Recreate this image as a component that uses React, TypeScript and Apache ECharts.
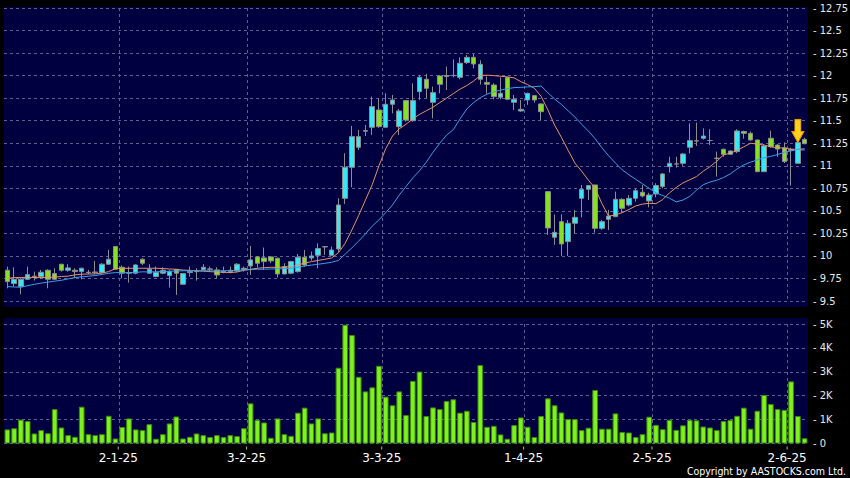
import React, { useEffect, useRef } from 'react';
import * as echarts from 'echarts';

// Trading days (HK), grouped by month
const dec24 = [5, 6, 9, 10, 11, 12, 13, 16, 17, 18, 19, 20, 23, 24, 27, 30, 31];
const jan25 = [2, 3, 6, 7, 8, 9, 10, 13, 14, 15, 16, 17, 20, 21, 22, 23, 24, 27, 28];
const feb25 = [3, 4, 5, 6, 7, 10, 11, 12, 13, 14, 17, 18, 19, 20, 21, 24, 25, 26, 27, 28];
const mar25 = [3, 4, 5, 6, 7, 10, 11, 12, 13, 14, 17, 18, 19, 20, 21, 24, 25, 26, 27, 28, 31];
const apr25 = [1, 2, 3, 7, 8, 9, 10, 11, 14, 15, 16, 17, 22, 23, 24, 25, 28, 29, 30];
const may25 = [2, 6, 7, 8, 9, 12, 13, 14, 15, 16, 19, 20, 21, 22, 23, 26, 27, 28, 29, 30];
const jun25 = [2, 3, 4];

const opens = [
  9.841, 9.693, 9.66, 9.741, 9.771, 9.771, 9.841, 9.804, 9.908, 9.841, 9.841, 9.826, 9.815, 9.815, 9.815, 9.908, 10.104, 9.874, 9.815, 9.808,
  9.963, 9.808, 9.771, 9.808, 9.782, 9.849, 9.686, 9.815, 9.826, 9.849, 9.852, 9.845, 9.826, 9.826, 9.834, 9.849, 9.889, 9.989, 9.978, 9.989,
  9.974, 9.8, 9.808, 9.826, 9.985, 9.978, 10.007, 10.103, 10.007, 10.077, 10.639, 10.983, 11.205, 11.39, 11.427, 11.619, 11.427, 11.682, 11.434, 11.723,
  11.5, 11.822, 11.959, 11.704, 11.996, 11.99, 12.0, 11.981, 12.144, 12.203, 11.959, 11.925, 11.896, 11.76, 11.978, 11.704, 11.608, 11.73, 11.778, 11.686,
  10.713, 10.207, 10.38, 10.159, 10.362, 10.639, 10.739, 10.787, 10.306, 10.406, 10.436, 10.628, 10.565, 10.639, 10.706, 10.61, 10.687, 10.769, 10.99, 11.02,
  11.027, 11.205, 11.277, 11.305, 11.28, 11.085, 11.183, 11.127, 11.157, 11.38, 11.36, 11.286, 10.935, 11.305, 11.23, 11.2, 11.17, 11.027, 11.293,
];
const closes = [
  9.715, 9.741, 9.741, 9.793, 9.775, 9.819, 9.741, 9.741, 9.841, 9.867, 9.826, 9.863, 9.819, 9.822, 9.908, 9.963, 9.852, 9.808, 9.808, 9.9,
  9.919, 9.852, 9.819, 9.841, 9.826, 9.808, 9.804, 9.826, 9.83, 9.874, 9.856, 9.789, 9.819, 9.841, 9.908, 9.863, 9.956, 9.919, 9.937, 9.945,
  9.8, 9.882, 9.937, 9.985, 9.9, 10.0, 10.081, 10.1, 10.066, 10.565, 10.983, 11.323, 11.323, 11.383, 11.656, 11.434, 11.682, 11.73, 11.608, 11.508,
  11.723, 11.981, 11.859, 11.811, 11.904, 12.0, 12.003, 12.137, 12.203, 12.129, 12.126, 11.905, 11.767, 11.804, 11.737, 11.737, 11.626, 11.804, 11.73, 11.6,
  10.31, 10.262, 10.133, 10.362, 10.428, 10.739, 10.78, 10.306, 10.38, 10.443, 10.628, 10.528, 10.639, 10.724, 10.665, 10.676, 10.78, 10.909, 11.027, 11.02,
  11.131, 11.279, 11.275, 11.33, 11.28, 11.08, 11.127, 11.164, 11.386, 11.36, 11.286, 10.935, 11.22, 11.212, 11.185, 11.046, 11.18, 11.257, 11.245,
];
const lows = [
  9.641, 9.66, 9.575, 9.734, 9.727, 9.745, 9.641, 9.734, 9.826, 9.826, 9.752, 9.741, 9.797, 9.8, 9.808, 9.9, 9.845, 9.752, 9.704, 9.797,
  9.9, 9.8, 9.764, 9.797, 9.649, 9.568, 9.678, 9.771, 9.726, 9.837, 9.826, 9.752, 9.808, 9.808, 9.819, 9.826, 9.789, 9.87, 9.845, 9.919,
  9.76, 9.797, 9.797, 9.815, 9.88, 9.948, 9.863, 10.011, 10.0, 10.04, 10.577, 10.761, 11.175, 11.33, 11.342, 11.42, 11.42, 11.582, 11.342, 11.49,
  11.49, 11.73, 11.75, 11.527, 11.804, 11.84, 11.98, 11.959, 12.13, 12.08, 11.9, 11.8, 11.737, 11.737, 11.73, 11.619, 11.6, 11.675, 11.7, 11.508,
  10.233, 10.122, 10.0, 10.0, 10.251, 10.428, 10.621, 10.258, 10.29, 10.288, 10.43, 10.48, 10.55, 10.602, 10.65, 10.539, 10.65, 10.75, 10.924, 10.98,
  11.0, 11.138, 11.22, 11.29, 11.23, 10.88, 11.1, 11.12, 11.14, 11.3, 11.28, 10.93, 10.93, 11.2, 11.1, 11.03, 10.78, 11.027, 11.24,
];
const highs = [
  9.882, 9.874, 9.752, 9.882, 9.826, 9.845, 9.852, 9.863, 9.908, 9.908, 9.863, 9.871, 9.845, 9.945, 9.919, 10.067, 10.104, 9.893, 9.882, 9.908,
  9.974, 9.908, 9.882, 9.874, 9.845, 9.856, 9.808, 9.882, 9.863, 9.908, 9.882, 9.874, 9.882, 9.882, 9.919, 9.882, 10.111, 10.0, 10.093, 10.0,
  9.982, 9.919, 9.945, 10.022, 10.066, 10.048, 10.14, 10.11, 10.103, 10.639, 11.138, 11.442, 11.397, 11.453, 11.767, 11.748, 11.804, 11.785, 11.63, 11.73,
  11.915, 12.007, 12.02, 11.878, 12.007, 12.1, 12.18, 12.203, 12.229, 12.24, 12.17, 11.99, 11.915, 11.981, 11.99, 11.785, 11.73, 11.81, 11.785, 11.69,
  10.72, 10.46, 10.462, 10.399, 10.51, 10.787, 10.787, 10.79, 10.4, 10.51, 10.713, 10.64, 10.676, 10.75, 10.787, 10.7, 10.806, 10.92, 11.1, 11.1,
  11.14, 11.471, 11.478, 11.416, 11.405, 11.157, 11.19, 11.17, 11.405, 11.39, 11.38, 11.29, 11.24, 11.39, 11.24, 11.26, 11.2, 11.26, 11.31,
];
// Volume in thousands
const volumes = [
  0.59, 0.64, 1.0, 0.94, 0.42, 0.56, 0.43, 1.44, 0.67, 0.35, 0.28, 1.54, 0.39, 0.35, 0.39, 1.16, 0.21, 0.69, 1.05, 0.59,
  0.56, 0.81, 0.2, 0.39, 0.84, 1.13, 0.21, 0.28, 0.42, 0.35, 0.27, 0.35, 0.27, 0.35, 0.31, 0.64, 1.68, 0.99, 0.88, 0.24,
  1.05, 0.39, 0.32, 1.29, 1.5, 0.84, 1.05, 0.43, 0.46, 3.17, 4.97, 4.54, 2.79, 2.18, 2.35, 3.25, 1.96, 1.6, 2.18, 1.19,
  2.62, 3.01, 1.15, 1.51, 1.44, 1.78, 1.85, 1.29, 1.37, 0.9, 3.28, 0.7, 0.74, 0.38, 0.2, 0.77, 1.09, 0.7, 0.27, 1.15,
  1.89, 1.6, 1.3, 1.02, 1.02, 0.56, 0.66, 2.24, 0.62, 0.62, 1.26, 0.48, 0.46, 0.27, 0.39, 1.12, 0.78, 0.6, 0.99, 0.57,
  0.76, 0.99, 0.97, 0.71, 0.67, 0.56, 0.94, 0.98, 1.16, 1.5, 0.62, 1.37, 2.03, 1.65, 1.44, 1.41, 2.6, 1.15, 0.22,
];
// Moving averages
const maShort = [
  9.752, 9.76, 9.76, 9.763, 9.76, 9.76, 9.76, 9.765, 9.772, 9.776, 9.79, 9.797, 9.8, 9.8, 9.81, 9.826, 9.86, 9.863, 9.863, 9.863,
  9.863, 9.863, 9.863, 9.86, 9.855, 9.852, 9.843, 9.84, 9.835, 9.83, 9.826, 9.822, 9.819, 9.815, 9.822, 9.84, 9.852, 9.863, 9.87, 9.874,
  9.874, 9.876, 9.88, 9.9, 9.92, 9.937, 9.95, 9.963, 9.978, 10.035, 10.14, 10.29, 10.45, 10.62, 10.79, 11.0, 11.19, 11.33, 11.41, 11.46,
  11.52, 11.57, 11.61, 11.65, 11.7, 11.75, 11.8, 11.85, 11.89, 11.94, 12.0, 12.005, 12.0, 11.993, 11.986, 11.975, 11.933, 11.9, 11.86, 11.77,
  11.62, 11.45, 11.315, 11.17, 11.03, 10.94, 10.84, 10.75, 10.58, 10.44, 10.455, 10.48, 10.515, 10.554, 10.575, 10.584, 10.58, 10.625, 10.7, 10.76,
  10.81, 10.845, 10.88, 10.94, 10.99, 11.05, 11.12, 11.14, 11.17, 11.21, 11.25, 11.24, 11.23, 11.21, 11.2, 11.195, 11.185, 11.18, 11.175,
];
const maLong = [
  9.66, 9.655, 9.653, 9.67, 9.685, 9.698, 9.71, 9.72, 9.73, 9.745, 9.76, 9.768, 9.775, 9.782, 9.795, 9.807, 9.815, 9.815, 9.815, 9.817,
  9.824, 9.822, 9.824, 9.826, 9.83, 9.833, 9.835, 9.836, 9.837, 9.836, 9.834, 9.835, 9.836, 9.837, 9.84, 9.845, 9.848, 9.852, 9.853, 9.855,
  9.856, 9.86, 9.863, 9.875, 9.889, 9.898, 9.908, 9.918, 9.93, 9.95, 10.02, 10.09, 10.165, 10.245, 10.33, 10.4, 10.48, 10.565, 10.675, 10.77,
  10.865, 10.945, 11.04, 11.15, 11.25, 11.34, 11.4, 11.52, 11.63, 11.7, 11.755, 11.795, 11.82, 11.84, 11.855, 11.867, 11.87, 11.875, 11.878, 11.884,
  11.81, 11.74, 11.68, 11.61, 11.54, 11.46, 11.385, 11.3, 11.2, 11.11, 11.03, 10.955, 10.9, 10.85, 10.8, 10.75, 10.7, 10.67, 10.64, 10.6,
  10.62, 10.66, 10.73, 10.79, 10.82, 10.84, 10.87, 10.91, 10.965, 11.01, 11.04, 11.065, 11.09, 11.105, 11.125, 11.15, 11.165, 11.183, 11.19,
];
const ARROW_IDX = 117;

const months = [
  { days: dec24, m: 12, y: 24 },
  { days: jan25, m: 1, y: 25 },
  { days: feb25, m: 2, y: 25 },
  { days: mar25, m: 3, y: 25 },
  { days: apr25, m: 4, y: 25 },
  { days: may25, m: 5, y: 25 },
  { days: jun25, m: 6, y: 25 },
];
const dates: string[] = [];
const monthStarts = new Set<number>();
months.forEach((mo, mi) => {
  mo.days.forEach((d, di) => {
    if (di === 0 && mi > 0) monthStarts.add(dates.length);
    dates.push(`${d}-${mo.m}-${mo.y}`);
  });
});
const isMonthStart = (idx: number) => monthStarts.has(idx);
const ohlc = opens.map((o, i) => [o, closes[i], lows[i], highs[i]]);

const GRID_COLOR = '#5f5f98';
const NAVY = '#000040';
const LABEL_FONT = "'DejaVu Sans Condensed', 'Liberation Sans Narrow', 'DejaVu Sans', sans-serif";

export default function App() {
  const ref = useRef<HTMLDivElement>(null);
  useEffect(() => {
    if (!ref.current) return;
    const chart = echarts.init(ref.current, null, { renderer: 'svg' });
    const dashed = { color: GRID_COLOR, width: 1, type: [3, 3] as any };
    const option: any = {
      animation: false,
      backgroundColor: '#000000',
      graphic: [
        { type: 'rect', z: -10, silent: true, shape: { x: 4, y: 7, width: 804, height: 300 }, style: { fill: NAVY } },
        { type: 'rect', z: -10, silent: true, shape: { x: 4, y: 318, width: 804, height: 125.5 }, style: { fill: NAVY } },
        {
          type: 'text', x: 846, y: 471, silent: true,
          style: { text: 'Copyright by AASTOCKS.com Ltd.', fill: '#ffffff', fontSize: 10.5, fontFamily: LABEL_FONT, align: 'right', verticalAlign: 'middle' },
        },
      ],
      grid: [
        { left: 4, right: 42, top: 8, height: 293, outerBoundsMode: 'none' },
        { left: 4, right: 42, top: 324, height: 119.5, outerBoundsMode: 'none' },
      ],
      xAxis: [
        {
          type: 'category', gridIndex: 0, data: dates, boundaryGap: true,
          axisLine: { show: false }, axisTick: { show: false }, axisLabel: { show: false },
          splitLine: { show: true, interval: isMonthStart, showMaxLine: false, lineStyle: dashed },
        },
        {
          type: 'category', gridIndex: 1, data: dates, boundaryGap: true,
          axisLine: { show: false },
          axisTick: { show: false },
          axisLabel: {
            interval: isMonthStart,
            formatter: (v: string) => `{tk| }\n{tx|${v}}`,
            margin: 3,
            padding: [0, 8, 0, 0],
            rich: {
              tk: { width: 1, height: 3, lineHeight: 3, fontSize: 1, backgroundColor: '#b4b4b4' },
              tx: { color: '#ffffff', fontFamily: "'DejaVu Sans', sans-serif", fontSize: 12, lineHeight: 17 },
            },
          },
          splitLine: { show: true, interval: isMonthStart, showMaxLine: false, lineStyle: dashed },
        },
      ],
      yAxis: [
        {
          type: 'value', gridIndex: 0, position: 'right', min: 9.5, max: 12.75, interval: 0.25,
          axisLine: { show: false }, axisTick: { show: false },
          axisLabel: { formatter: (v: number) => '- ' + v, color: '#e8e8e8', fontFamily: LABEL_FONT, fontSize: 11, margin: 5 },
          splitLine: { show: true, lineStyle: dashed },
        },
        {
          type: 'value', gridIndex: 1, position: 'right', min: 0, max: 5, interval: 1,
          axisLine: { show: false }, axisTick: { show: false },
          axisLabel: { formatter: (v: number) => (v === 0 ? '- 0' : '- ' + v + 'K'), color: '#e8e8e8', fontFamily: LABEL_FONT, fontSize: 11, margin: 5 },
          splitLine: { show: true, lineStyle: dashed },
        },
      ],
      series: [
        {
          type: 'candlestick', xAxisIndex: 0, yAxisIndex: 0, data: ohlc, barWidth: 5, z: 2,
          itemStyle: { color: '#35e8f4', color0: '#86e21f', borderColor: '#8e8e8e', borderColor0: '#8e8e8e', borderWidth: 1 },
          markPoint: {
            silent: true,
            symbol: 'path://M3,0L9,0L9,12L12,12L6,23L0,12L3,12Z',
            symbolSize: [12, 23], symbolOffset: [0, -11.5], symbolKeepAspect: false,
            itemStyle: { color: '#ffd21c', borderColor: '#ec9a00', borderWidth: 1 },
            label: { show: false },
            data: [{ coord: [dates[ARROW_IDX], closes[ARROW_IDX]] }],
          },
        },
        {
          type: 'line', xAxisIndex: 0, yAxisIndex: 0, data: maShort, symbol: 'none', showSymbol: false, z: 3, silent: true,
          lineStyle: { color: '#e5916a', width: 1 },
        },
        {
          type: 'line', xAxisIndex: 0, yAxisIndex: 0, data: maLong, symbol: 'none', showSymbol: false, z: 3, silent: true,
          lineStyle: { color: '#3b9ee8', width: 1 },
        },
        {
          type: 'bar', xAxisIndex: 1, yAxisIndex: 1, data: volumes, barWidth: '84%', silent: true,
          itemStyle: { color: '#7ef21c', borderColor: '#3d8a0b', borderWidth: 1 },
        },
      ],
    };
    chart.setOption(option);
    return () => chart.dispose();
  }, []);
  return (
    <div
      ref={ref}
      style={{ position: 'fixed', left: 0, top: 0, width: 850, height: 478, background: '#000' }}
    />
  );
}
